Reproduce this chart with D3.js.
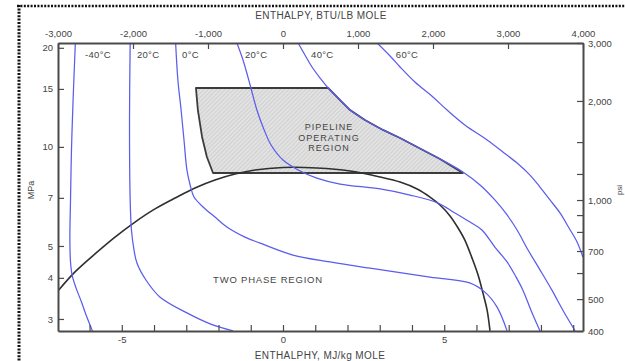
<!DOCTYPE html>
<html>
<head>
<meta charset="utf-8">
<script src="https://cdn.jsdelivr.net/npm/d3@7"></script>
<style>
  html, body { margin: 0; padding: 0; background: #fff; }
  svg { display: block; }
  text { font-family: "Liberation Sans", Arial, Helvetica, sans-serif; fill: #444; }
</style>
</head>
<body>
<svg id="chart" width="625" height="361"></svg>
<script>
// Enthalpy in kJ/mol (bottom axis), pressure in MPa (left axis)

// Isotherms
const isoNames = ["-40°C", "20°C", "0°C", "20°C", "40°C", "60°C"];
const isoLabelH = [-6.14, -4.53, -3.13, -1.18, 0.87, 3.50];

const isoM40H = [-6.44, -6.51, -6.56, -6.59, -6.61, -6.59, -6.54, -6.42, -6.25, -6.11, -5.91];
const isoM40P = [20.68, 13.88, 9.78, 6.90, 5.21, 4.47, 4.08, 3.73, 3.38, 3.09, 2.76];

const isoM20H = [-4.74, -4.76, -4.74, -4.70, -4.62, -4.53, -4.25, -3.82, -2.98, -2.26, -1.55];
const isoM20P = [20.68, 12.07, 6.90, 5.59, 4.86, 4.44, 3.94, 3.50, 3.13, 2.90, 2.76];

const iso0H = [-3.33, -3.26, -3.16, -3.07, -2.98, -2.88, -2.76, -2.48, -2.11, -1.74, -1.18, -0.71, 0.31, 1.46, 2.70, 4.56, 5.79, 6.26, 6.64, 6.95];
const iso0P = [20.68, 15.97, 12.94, 10.49, 8.51, 7.66, 7.04, 6.57, 6.12, 5.71, 5.32, 5.10, 4.69, 4.47, 4.28, 4.02, 3.86, 3.62, 3.26, 2.76];

const iso20H = [-1.43, -1.24, -1.02, -0.81, -0.62, -0.37, 0.00, 0.47, 1.05, 1.77, 3.01, 3.94, 4.81, 5.33, 5.80, 6.17, 6.57, 6.95, 7.23, 7.44, 7.69, 7.97];
const iso20P = [20.68, 18.36, 15.42, 12.94, 11.49, 10.13, 9.12, 8.51, 8.04, 7.71, 7.45, 7.14, 6.75, 6.30, 5.91, 5.59, 4.96, 4.47, 4.02, 3.67, 3.19, 2.76];

const iso40H = [0.47, 0.68, 0.90, 1.15, 1.40, 1.77, 2.08, 2.54, 3.10, 3.63, 4.16, 4.87, 5.58, 6.11, 6.57, 6.95, 7.26, 7.60, 7.97, 8.34, 8.68, 9.06];
const iso40P = [20.68, 19.02, 17.49, 16.19, 15.10, 13.88, 12.94, 12.07, 11.26, 10.64, 9.99, 9.19, 8.39, 7.66, 6.90, 6.21, 5.59, 4.86, 4.23, 3.67, 3.19, 2.76];

const iso60H = [2.92, 3.32, 3.63, 4.09, 4.65, 5.09, 5.64, 6.33, 6.82, 7.26, 7.66, 7.97, 8.28, 8.59, 8.87, 9.12, 9.30];
const iso60P = [20.68, 18.89, 17.49, 15.75, 14.17, 12.94, 11.66, 10.49, 9.65, 8.93, 8.21, 7.55, 6.90, 6.30, 5.67, 5.14, 4.63];

// Phase envelope
const envH = [-6.98, -6.45, -5.83, -5.21, -4.59, -3.97, -3.35, -2.73, -2.11, -1.49, -0.87, 0.00, 1.05, 2.08, 3.01, 3.63, 4.16, 4.56, 4.87, 5.18, 5.43, 5.64, 5.86, 6.05, 6.20, 6.33, 6.42];
const envP = [3.65, 4.17, 4.73, 5.32, 5.91, 6.48, 6.99, 7.50, 7.93, 8.27, 8.51, 8.66, 8.63, 8.45, 8.10, 7.82, 7.45, 7.04, 6.66, 6.17, 5.67, 5.21, 4.60, 4.08, 3.60, 3.19, 2.76];

// Pipeline operating region outline
const pipeH = [-2.70, 1.40, 1.77, 2.08, 2.54, 3.10, 3.63, 4.16, 4.87, 5.58, -2.17, -2.36, -2.51, -2.64];
const pipeP = [15.10, 15.10, 13.88, 12.94, 12.07, 11.26, 10.64, 9.99, 9.19, 8.33, 8.33, 9.32, 10.72, 12.94];

// Axis ticks
const bottomTicks = [-6, -5, -4, -3, -2, -1, 0, 1, 2, 3, 4, 5, 6, 7, 8, 9];
const bottomLabels = [-5, 0, 5];
const topTicks = [-3000, -2000, -1000, 0, 1000, 2000, 3000, 4000];
const leftTicks = [20, 15, 10, 7, 5, 4, 3];
const rightTicks = [3000, 2000, 1500, 1200, 1000, 900, 800, 700, 600, 500, 400];
const rightLabels = [3000, 2000, 1000, 700, 500, 400];

const KJ_PER_BTU = 0.002326;   // 1 BTU/lb-mol in kJ/mol
const PSI_PER_MPA = 145.038;

const svg = d3.select("#chart");
const L = 58, R = 583, T = 43, B = 331;

const x = d3.scaleLinear().domain([-3000 * KJ_PER_BTU, 4000 * KJ_PER_BTU]).range([L, R]);
const xTop = d3.scaleLinear().domain([-3000, 4000]).range([L, R]);
const y = d3.scaleLog().domain([400 / PSI_PER_MPA, 3000 / PSI_PER_MPA]).range([B, T]);
const yR = d3.scaleLog().domain([400, 3000]).range([B, T]);

const fmtComma = d => (d < 0 ? "-" : "") + d3.format(",")(Math.abs(d));

// hatch pattern for the operating region
const defs = svg.append("defs");
const pat = defs.append("pattern")
  .attr("id", "hatch").attr("patternUnits", "userSpaceOnUse")
  .attr("width", 3).attr("height", 3)
  .attr("patternTransform", "rotate(45)");
pat.append("rect").attr("width", 3).attr("height", 3).attr("fill", "#e2e2e2");
pat.append("line").attr("x1", 0).attr("y1", 0).attr("x2", 0).attr("y2", 3)
  .attr("stroke", "#c4c4c4").attr("stroke-width", 1.2);

// outer dotted frame
svg.append("line").attr("x1", 17).attr("y1", 6).attr("x2", 625).attr("y2", 6)
  .attr("stroke", "#111").attr("stroke-width", 2.6).attr("stroke-dasharray", "2,1.4");
svg.append("line").attr("x1", 19).attr("y1", 5).attr("x2", 19).attr("y2", 361)
  .attr("stroke", "#111").attr("stroke-width", 3).attr("stroke-dasharray", "2,1.4");

// pipeline region
const poly = pipeH.map((h, i) => [x(h), y(pipeP[i])]);
svg.append("path")
  .attr("d", d3.line().curve(d3.curveLinearClosed)(poly))
  .attr("fill", "url(#hatch)")
  .attr("stroke", "#3c3c3c").attr("stroke-width", 1.8).attr("stroke-linejoin", "round");

const smooth = d3.line().curve(d3.curveCatmullRom.alpha(0.5));
const clip = defs.append("clipPath").attr("id", "plotclip");
clip.append("rect").attr("x", L).attr("y", T).attr("width", R - L).attr("height", B - T);

// phase envelope
svg.append("path")
  .attr("clip-path", "url(#plotclip)")
  .attr("d", smooth(envH.map((h, i) => [x(h), y(envP[i])])))
  .attr("fill", "none").attr("stroke", "#2f2f2f").attr("stroke-width", 1.6);

// isotherms
const isotherms = [
  [isoM40H, isoM40P], [isoM20H, isoM20P], [iso0H, iso0P],
  [iso20H, iso20P], [iso40H, iso40P], [iso60H, iso60P]
];
svg.append("g").attr("clip-path", "url(#plotclip)")
  .selectAll("path").data(isotherms).join("path")
  .attr("d", ([hs, ps]) => smooth(hs.map((h, i) => [x(h), y(ps[i])])))
  .attr("fill", "none").attr("stroke", "#5c5cee").attr("stroke-width", 1.25);

svg.append("g").selectAll("text").data(isoNames).join("text")
  .attr("x", (d, i) => x(isoLabelH[i])).attr("y", 58)
  .attr("font-size", "9.5px").attr("letter-spacing", "0.3px")
  .text(d => d);

// axes
function styleAxis(g) {
  g.select(".domain").attr("stroke", "#4a4a4a").attr("stroke-width", 2);
  g.selectAll(".tick line").attr("stroke", "#4a4a4a").attr("stroke-width", 1.2);
  g.selectAll(".tick text").attr("font-size", "9.5px").attr("fill", "#444")
    .attr("font-family", "Liberation Sans, Arial, sans-serif");
}

svg.append("g").attr("transform", `translate(0,${B})`)
  .call(d3.axisBottom(x).tickValues(bottomTicks).tickSizeInner(-6).tickSizeOuter(0).tickPadding(5)
    .tickFormat(d => bottomLabels.includes(d) ? String(d) : ""))
  .call(styleAxis);

svg.append("g").attr("transform", `translate(0,${T})`)
  .call(d3.axisTop(xTop).tickValues(topTicks).tickSizeInner(-6).tickSizeOuter(0).tickPadding(6)
    .tickFormat(fmtComma))
  .call(styleAxis);

svg.append("g").attr("transform", `translate(${L},0)`)
  .call(d3.axisLeft(y).tickValues(leftTicks).tickSizeInner(-6).tickSizeOuter(0).tickPadding(5)
    .tickFormat(d => String(d)))
  .call(styleAxis);

svg.append("g").attr("transform", `translate(${R},0)`)
  .call(d3.axisRight(yR).tickValues(rightTicks).tickSizeInner(-6).tickSizeOuter(0).tickPadding(5)
    .tickFormat(d => rightLabels.includes(d) ? fmtComma(d) : ""))
  .call(styleAxis);

// titles and region labels
svg.append("text").attr("x", 321).attr("y", 18.5).attr("text-anchor", "middle")
  .attr("font-size", "10px").attr("letter-spacing", "0.4px")
  .text("ENTHALPY, BTU/LB MOLE");
svg.append("text").attr("x", 320).attr("y", 359).attr("text-anchor", "middle")
  .attr("font-size", "10px").attr("letter-spacing", "0.4px")
  .text("ENTHALPHY, MJ/kg MOLE");
svg.append("text").attr("transform", "translate(34,190) rotate(-90)").attr("text-anchor", "middle")
  .attr("font-size", "9px").text("MPa");
svg.append("text").attr("transform", "translate(622,190) rotate(-90)").attr("text-anchor", "middle")
  .attr("font-size", "8px").text("psi");

const pipeText = ["PIPELINE", "OPERATING", "REGION"];
svg.append("g").selectAll("text").data(pipeText).join("text")
  .attr("x", 329).attr("y", (d, i) => 130 + i * 10.5).attr("text-anchor", "middle")
  .attr("font-size", "9px").attr("letter-spacing", "1px")
  .text(d => d);

svg.append("text").attr("x", 268).attr("y", 283).attr("text-anchor", "middle")
  .attr("font-size", "9.5px").attr("letter-spacing", "0.8px")
  .text("TWO PHASE REGION");
</script>
</body>
</html>
